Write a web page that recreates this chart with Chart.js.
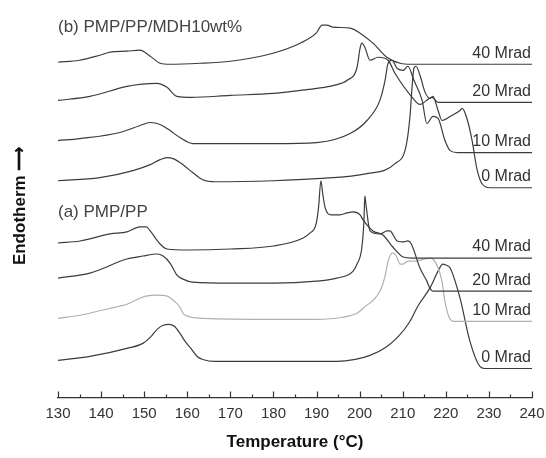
<!DOCTYPE html>
<html>
<head>
<meta charset="utf-8">
<script src="https://cdn.jsdelivr.net/npm/chart.js@4.4.0/dist/chart.umd.min.js"></script>
<style>
  html, body { margin: 0; padding: 0; background: #fff; }
  #wrap { width: 546px; height: 458px; }
</style>
</head>
<body>
<div id="wrap"><canvas id="dsc"></canvas></div>
<script>
// DSC traces: temperature (°C) and stacked heat flow (arb. units)
// (b) PMP/PP/MDH10wt%
const tB40 = [130,135,139.7,142.1,146,149,151.4,153.7,156,163,170,174.6,179.9,186.2,189.9,191.3,192.4,193.8,197.8,200.1,203.1,206.3,209.4,212,240];
const hB40 = [338,340,345,348,349,350,344,337,336,337,339,342,347,357,367,375,375,373,372,367,357,343,337,336,336];

const tB20 = [130,137.4,146,149,153,155.3,157.6,161,170,180,186.2,190.1,194,197.1,199.4,200.1,200.5,201.2,202.4,204.3,206.6,208.2,212.2,214,216.8,218.2,240];
const hB20 = [300,304,314,316,317,313,304,303,305,307,310,312,315,320,333,352,357,353,340,343,340,327,303,296,303,298,298];

const tB10 = [130,135.1,144.4,149.7,151.4,153.7,156,158.3,161.3,165,180,190,197.8,201.7,204.7,205.9,206.6,207.5,208.7,210.1,211.2,212.6,214.5,215.6,217,218.2,219.8,221,222.8,240];
const hB10 = [260,262,268,276,278,276,270,263,257,257,257,258,267,280,300,320,337,340,332,330,334,320,300,277,284,282,260,250,248,248];

const tB0 = [130,139.7,147.4,151.4,153.7,155.3,156.7,159,161.3,163.6,166.4,180,190,201.7,208.2,210.8,211.7,212.2,212.6,213.1,214,215.2,216.3,217,218.2,219.1,221,223.3,223.8,224.9,226.1,227.2,228.4,230.3,240];
const hB0 = [220,223,230,236,241,243,242,236,228,221,219,220,222,227,237,255,285,315,332,334,325,308,302,304,290,280,284,290,292,282,260,232,217,213,213];

// (a) PMP/PP
const tA40 = [130,135.1,142.1,146,149,150.5,151.4,153.7,155.3,160,170,180,186.9,188.5,189.9,190.5,191,191.5,192,193.4,195.4,197.1,198.5,200.1,200.8,203.1,205.4,207.7,210.1,212,240];
const hA40 = [158,160,167,169,174,174,170,157,152,151,152,155,163,168,177,195,220,205,193,186,186,188,189,186,181,170,166,154,144,143,143];

const tA20 = [130,137.4,146,149.7,153,154.4,156,157.6,159,161.3,170,180,190,194.7,198.5,199.4,200.5,201,201.2,201.5,202.4,204.7,206.4,207,208.7,210.1,211.2,212,214,215.6,216.3,217,240];
const hA20 = [123,128,142,145,147,145,138,126,122,119,118,118,120,123,130,137,153,180,205,195,170,167,170,170,160,159,160,157,133,120,113,110,110];

const tA10 = [130,135.1,142.1,146,149,150.4,153,155.3,157,158.3,159,161,163.6,180,190,196,199.4,200.8,204.7,205.9,206.6,207.3,207.7,208.5,209.4,210.1,211.2,213,215,216.3,217,218.3,219.1,219.8,220.5,221.7,240];
const hA10 = [83,86,93,97,103,105,106,105,100,94,88,84,83,82,82,84,88,93,110,125,140,147,148,145,137,137,140,140,142,143,142,132,120,100,87,80,80];

const tA0 = [130,137.4,146,149.7,151.4,153,154.4,155.8,157,158.3,159.5,161,162.3,163.6,166.4,180,190,194.7,199,202.4,206,209,211.7,213.5,216.3,218.2,219.3,220,221,223.3,225.6,227.9,229,240];
const hA0 = [41,45,53,58,64,72,76,77,75,68,60,52,45,42,40,40,40,40,42,46,54,65,80,95,113,130,137,136,133,103,60,35,33,33];

const doseLabels = ['40 Mrad', '20 Mrad', '10 Mrad', '0 Mrad'];
const panelTitles = ['(b) PMP/PP/MDH10wt%', '(a) PMP/PP'];
const tempTicks = [130, 140, 150, 160, 170, 180, 190, 200, 210, 220, 230, 240];

const traces = [
  [tB40, hB40, doseLabels[0], '#3c3c3c'],
  [tB20, hB20, doseLabels[1], '#3c3c3c'],
  [tB10, hB10, doseLabels[2], '#3c3c3c'],
  [tB0,  hB0,  doseLabels[3], '#3c3c3c'],
  [tA40, hA40, doseLabels[0], '#3c3c3c'],
  [tA20, hA20, doseLabels[1], '#3c3c3c'],
  [tA10, hA10, doseLabels[2], '#b0b0b0'],
  [tA0,  hA0,  doseLabels[3], '#3c3c3c']
];

const FONT = '"Liberation Sans", Arial, Helvetica, sans-serif';

// dose labels, panel captions and inward tick marks
const decorations = {
  id: 'decorations',
  afterDatasetsDraw(chart) {
    const { ctx, scales: { x, y } } = chart;
    ctx.save();
    ctx.font = '16px ' + FONT;
    ctx.fillStyle = '#333';
    ctx.textAlign = 'right';
    ctx.textBaseline = 'middle';
    chart.data.datasets.forEach(ds => {
      const last = ds.data[ds.data.length - 1];
      ctx.fillText(ds.label, x.getPixelForValue(last.x) - 1, y.getPixelForValue(last.y) - 11);
    });

    ctx.font = '17px ' + FONT;
    ctx.fillStyle = '#444';
    ctx.textAlign = 'left';
    ctx.fillText(panelTitles[0], x.left, 27);
    ctx.fillText(panelTitles[1], x.left, 212);

    ctx.strokeStyle = '#333';
    ctx.lineWidth = 1.2;
    ctx.beginPath();
    for (let v = 130; v <= 240; v += 5) {
      const px = Math.round(x.getPixelForValue(v)) + 0.5;
      const len = v % 10 === 0 ? 6 : 3;
      ctx.moveTo(px, x.top);
      ctx.lineTo(px, x.top - len);
    }
    ctx.stroke();
    ctx.restore();
  }
};

new Chart(document.getElementById('dsc'), {
  type: 'line',
  data: {
    datasets: traces.map(([t, h, label, color]) => ({
      label: label,
      data: t.map((v, i) => ({ x: v, y: h[i] })),
      borderColor: color,
      borderWidth: 1.2,
      pointRadius: 0,
      fill: false,
      cubicInterpolationMode: 'monotone'
    }))
  },
  options: {
    responsive: true,
    maintainAspectRatio: false,
    animation: false,
    layout: { padding: { left: 0, right: 0, top: 0, bottom: 5 } },
    plugins: { legend: { display: false }, tooltip: { enabled: false } },
    scales: {
      x: {
        type: 'linear',
        min: 130,
        max: 240,
        afterBuildTicks: scale => { scale.ticks = tempTicks.map(v => ({ value: v })); },
        afterFit: scale => { scale.paddingRight = 14; },
        grid: { display: false, drawTicks: false },
        border: { display: true, color: '#333', width: 1.2 },
        ticks: { color: '#333', font: { family: FONT, size: 15 }, padding: 7, maxRotation: 0 },
        title: {
          display: true,
          text: 'Temperature (\u00B0C)',
          color: '#111',
          font: { family: FONT, size: 17, weight: 'bold' },
          padding: { top: 3, bottom: 0 }
        }
      },
      y: {
        type: 'linear',
        min: 4,
        max: 400,
        afterFit: scale => { scale.width = 58; },
        grid: { display: false, drawTicks: false },
        border: { display: false },
        ticks: { display: false },
        title: {
          display: true,
          text: 'Endotherm \u27F6\u00A0\u00A0\u00A0',
          color: '#111',
          font: { family: FONT, size: 17, weight: 'bold' },
          padding: { top: 10, bottom: 0 }
        }
      }
    }
  },
  plugins: [decorations]
});
</script>
</body>
</html>
